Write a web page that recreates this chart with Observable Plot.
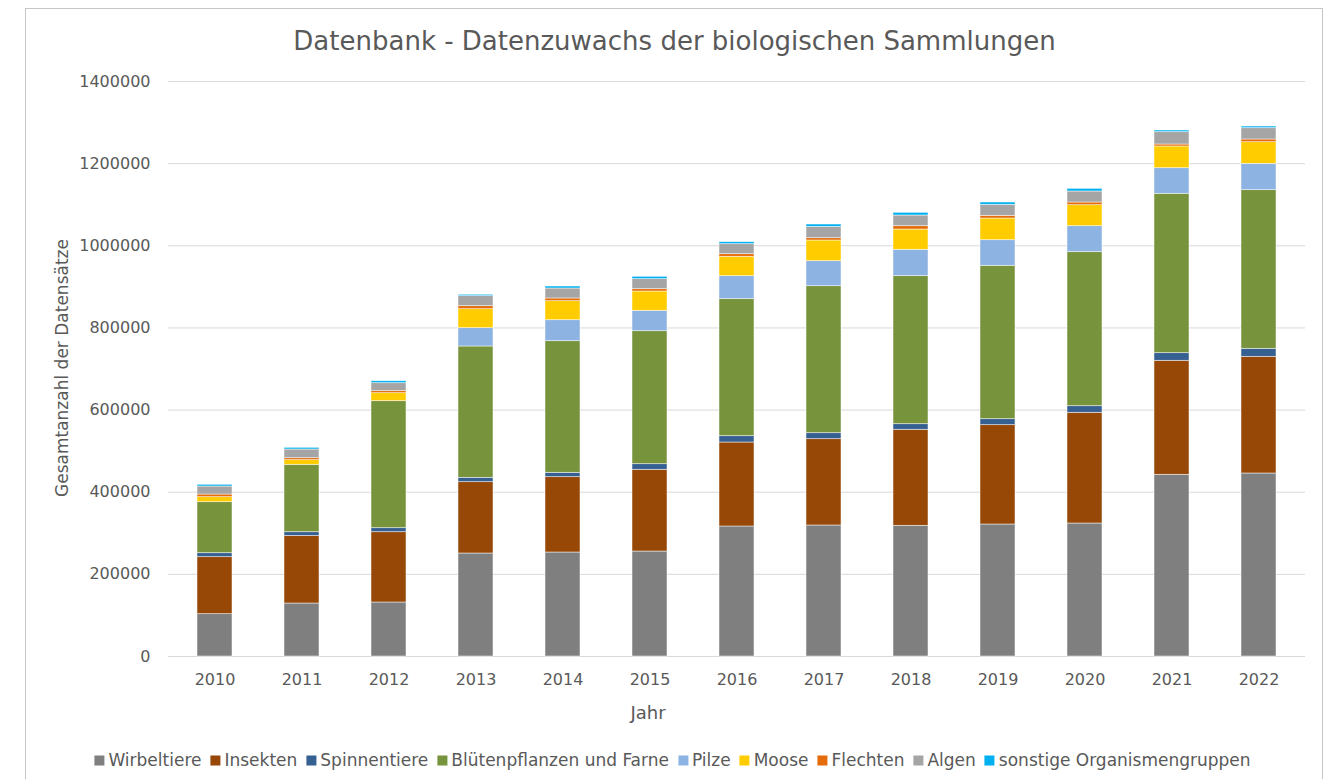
<!DOCTYPE html>
<html>
<head>
<meta charset="utf-8">
<script src="https://cdn.jsdelivr.net/npm/d3@7"></script>
<script src="https://cdn.jsdelivr.net/npm/@observablehq/plot@0.6"></script>
<style>
  body { margin: 0; background: #ffffff; }
  #wrap { position: relative; width: 1335px; height: 779px; overflow: hidden; font-family: "DejaVu Sans", sans-serif; color: #595959; }
  #frame { position: absolute; left: 25px; top: 8px; width: 1298px; height: 820px; border: 1px solid #c6c6c6; box-sizing: border-box; }
  #title { position: absolute; left: 0; width: 1349px; top: 27px; text-align: center; font-size: 26px; line-height: 28px; white-space: nowrap; }
  #chart { position: absolute; left: 0; top: 0; }
  #ylabel { position: absolute; left: 62px; top: 368px; transform: translate(-50%, -50%) rotate(-90deg); font-size: 17px; white-space: nowrap; line-height: 18px; }
  #xlabel { position: absolute; left: 648px; top: 713px; transform: translate(-50%, -50%); font-size: 18px; line-height: 18px; }
  #legend { position: absolute; left: 677px; top: 760px; transform: translate(-50%, -50%); display: flex; align-items: center; white-space: nowrap; font-size: 17px; line-height: 19px; }
  .item { display: flex; align-items: center; margin-right: 9px; }
  .sw { width: 10px; height: 10px; margin-right: 4px; }
</style>
</head>
<body>
<div id="wrap">
  <div id="frame"></div>
  <div id="title"></div>
  <div id="chart"></div>
  <div id="ylabel"></div>
  <div id="xlabel"></div>
  <div id="legend"></div>
</div>
<script>
const titleText = "Datenbank - Datenzuwachs der biologischen Sammlungen";
const yLabelText = "Gesamtanzahl der Datensätze";
const xLabelText = "Jahr";

const years = ["2010","2011","2012","2013","2014","2015","2016","2017","2018","2019","2020","2021","2022"];
const seriesNames = ["Wirbeltiere","Insekten","Spinnentiere","Blütenpflanzen und Farne","Pilze","Moose","Flechten","Algen","sonstige Organismengruppen"];
const seriesColors = ["#7f7f7f","#974706","#376092","#77933c","#8db3e2","#ffcc00","#e46c0a","#a5a5a5","#00b0f0"];

const wirbeltiere  = [103000,129000,131500,250800,253200,255600,316500,319000,318200,321400,323800,442400,445600];
const insekten     = [138800,164400,171100,173600,183400,199000,204500,210100,233800,241800,269600,277600,284100];
const spinnentiere = [9700,9200,9800,10700,10700,13600,15400,14600,13600,14600,16000,18500,19500];
const bluetenpfl   = [124200,164100,309200,319700,320400,323800,333600,357900,360400,373500,375000,388100,386200];
const pilze        = [0,0,0,44600,51100,49700,56000,60900,64200,62300,63300,62300,64200];
const moose        = [12200,11300,19500,46200,46300,47000,47200,50400,49400,52800,51100,52900,52600];
const flechten     = [6500,4800,4900,7300,6600,5600,6300,5600,8100,6600,6600,4800,6600];
const algen        = [19500,21200,19400,24400,24300,24400,24400,27700,26000,26800,26800,30000,27500];
const sonstige     = [4200,4100,4900,3400,4900,5800,4900,5600,6600,5600,6500,4100,4100];

const yTicks = [0,200000,400000,600000,800000,1000000,1200000,1400000];

const seriesValues = [wirbeltiere, insekten, spinnentiere, bluetenpfl, pilze, moose, flechten, algen, sonstige];
const rows = [];
years.forEach((yr, i) => {
  seriesNames.forEach((s, j) => {
    rows.push({year: yr, series: s, value: seriesValues[j][i]});
  });
});

document.getElementById("title").textContent = titleText;
document.getElementById("ylabel").textContent = yLabelText;
document.getElementById("xlabel").textContent = xLabelText;

const chart = Plot.plot({
  width: 1335,
  height: 740,
  marginTop: 81,
  marginBottom: 84,
  marginLeft: 168,
  marginRight: 30,
  style: {fontFamily: "DejaVu Sans, sans-serif", fontSize: "16px", color: "#595959", background: "transparent", overflow: "visible"},
  x: {domain: years, paddingInner: 0.6, paddingOuter: 0.3, label: null, tickSize: 0, tickPadding: 17},
  y: {domain: [0, 1400000], ticks: yTicks, tickFormat: d => String(d), tickSize: 0, tickPadding: 18, label: null},
  color: {domain: seriesNames, range: seriesColors},
  marks: [
    Plot.ruleY(yTicks, {stroke: "#d9d9d9", strokeWidth: 1}),
    Plot.barY(rows, {x: "year", y: "value", fill: "series", order: seriesNames, stroke: "#ffffff", strokeWidth: 0.7, strokeOpacity: 0.7})
  ]
});
document.getElementById("chart").appendChild(chart);

const legend = document.getElementById("legend");
seriesNames.forEach((s, j) => {
  const item = document.createElement("div");
  item.className = "item";
  const sw = document.createElement("div");
  sw.className = "sw";
  sw.style.background = seriesColors[j];
  const t = document.createElement("span");
  t.textContent = s;
  item.appendChild(sw);
  item.appendChild(t);
  legend.appendChild(item);
});
</script>
</body>
</html>
